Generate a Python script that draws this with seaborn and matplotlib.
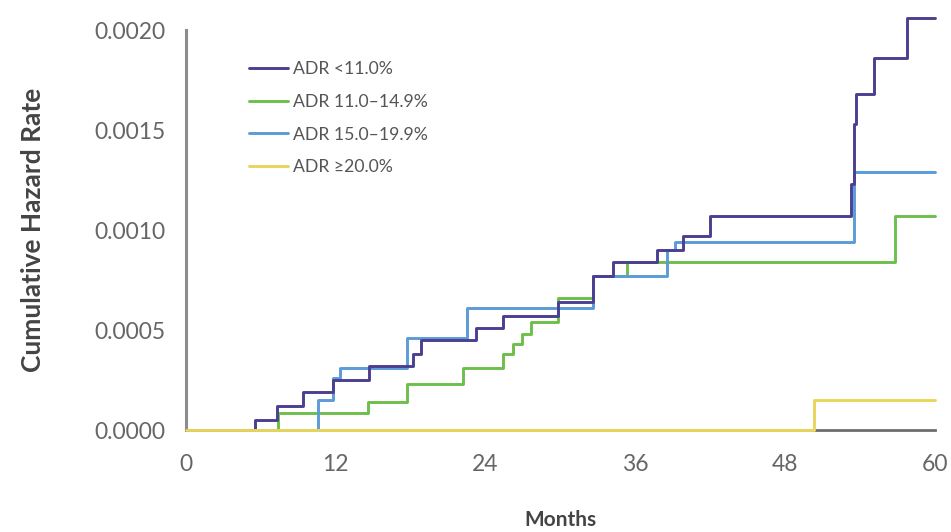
import pandas as pd
import matplotlib
matplotlib.use("Agg")
import matplotlib.pyplot as plt
import seaborn as sns

# step times (months) and cumulative hazard after each step
groups = ["ADR <11.0%", "ADR 11.0\u201314.9%", "ADR 15.0\u201319.9%", "ADR \u226520.0%"]

adr_lt11_t = [0, 5.5, 7.3, 9.4, 11.8, 14.7, 18.2, 18.8, 23.2, 25.4, 29.8, 32.6, 34.2,
              37.7, 39.8, 42.0, 53.3, 53.5, 53.7, 55.1, 57.8, 60]
adr_lt11_v = [0, 0.00005, 0.00012, 0.00019, 0.00025, 0.00032, 0.00038, 0.00045, 0.00051,
              0.00057, 0.00064, 0.00077, 0.00084, 0.00090, 0.00097, 0.00107, 0.00123,
              0.00153, 0.00168, 0.00186, 0.00206, 0.00206]

adr_11_15_t = [0, 7.4, 14.6, 17.7, 22.2, 25.4, 26.2, 26.9, 27.6, 29.8, 32.6, 35.3, 56.8, 60]
adr_11_15_v = [0, 0.000085, 0.00014, 0.00023, 0.00031, 0.00038, 0.00043, 0.00048, 0.00054,
               0.00066, 0.00077, 0.00084, 0.00107, 0.00107]

adr_15_20_t = [0, 10.6, 11.8, 12.3, 17.7, 22.5, 32.6, 38.5, 39.2, 53.5, 60]
adr_15_20_v = [0, 0.00015, 0.00026, 0.00031, 0.00046, 0.00061, 0.00077, 0.00090, 0.00094,
               0.00129, 0.00129]

adr_ge20_t = [0, 50.3, 60]
adr_ge20_v = [0, 0.00015, 0.00015]

colors = ["#4b3f91", "#6cbf4a", "#5b9bd8", "#e8d65a"]

frames = []
for name, t, v in zip(groups,
                      [adr_lt11_t, adr_11_15_t, adr_15_20_t, adr_ge20_t],
                      [adr_lt11_v, adr_11_15_v, adr_15_20_v, adr_ge20_v]):
    frames.append(pd.DataFrame({"month": t, "rate": v, "group": name}))
df = pd.concat(frames, ignore_index=True)

sns.set_style("white")
plt.rcParams["font.family"] = ["Lato", "DejaVu Sans"]

fig = plt.figure(figsize=(9.51, 5.32), dpi=100)
ax = fig.add_axes([0.1956, 0.1917, 0.7875, 0.7519])

sns.lineplot(data=df, x="month", y="rate", hue="group", hue_order=groups,
             palette=colors, drawstyle="steps-post", linewidth=2.1,
             estimator=None, ax=ax)

zorders = [4, 3, 3.5, 5]
for line, z in zip(ax.lines[:4], zorders):
    line.set_clip_on(False)
    line.set_zorder(z)

ax.set_xlim(0, 60)
ax.set_ylim(0, 0.002)
ax.set_xticks([0, 12, 24, 36, 48, 60])
ax.set_yticks([0, 0.0005, 0.0010, 0.0015, 0.0020])
ax.set_yticklabels(["0.0000", "0.0005", "0.0010", "0.0015", "0.0020"])

for side in ["top", "right"]:
    ax.spines[side].set_visible(False)
ax.spines["left"].set_color("#8c8c8c")
ax.spines["left"].set_linewidth(2.2)
ax.spines["bottom"].set_color("#6e6e6e")
ax.spines["bottom"].set_linewidth(2.0)
ax.spines["left"].set_zorder(1)
ax.spines["bottom"].set_zorder(1)

ax.tick_params(axis="y", direction="out", length=5, width=2, color="#777777",
               labelsize=16.5, labelcolor="#666666", pad=10)
ax.tick_params(axis="x", direction="out", length=7, width=2, color="#777777",
               labelsize=16.5, labelcolor="#666666", pad=10)

ax.set_xlabel("Months", fontsize=15, fontweight="bold", color="#444444")
ax.xaxis.set_label_coords(0.5, -0.2)
ax.set_ylabel("Cumulative Hazard Rate", fontsize=19, fontweight="bold", color="#444444")
ax.yaxis.set_label_coords(-0.188, 0.5)

handles = ax.lines[:4]
leg = ax.legend(handles, groups, loc="upper left", bbox_to_anchor=(0.075, 0.94),
                frameon=False, fontsize=12.7, handlelength=2.2, handletextpad=0.3,
                labelspacing=0.95, borderaxespad=0)
for txt in leg.get_texts():
    txt.set_color("#555555")

fig.savefig("out.png", dpi=100)
plt.close(fig)
